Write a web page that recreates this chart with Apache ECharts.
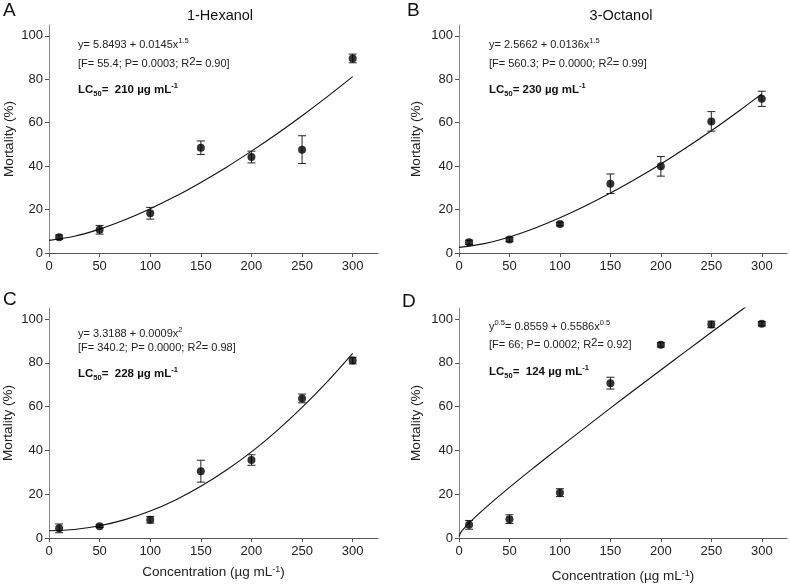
<!DOCTYPE html>
<html>
<head>
<meta charset="utf-8">
<script src="https://cdn.jsdelivr.net/npm/echarts@6/dist/echarts.min.js"></script>
<style>html,body{margin:0;padding:0;background:#fff}#c{width:790px;height:587px}</style>
</head>
<body>
<div id="c"></div>
<script>
// ---- data ----
const conc = [10, 50, 100, 150, 200, 250, 300];
const mortA = [7.3, 10.7, 18.3, 48.5, 44.2, 47.6, 89.6];
const errA  = [1.0, 2.0, 2.7, 3.1, 2.7, 6.4, 2.0];
const mortB = [4.9, 6.2, 13.3, 31.9, 39.9, 60.6, 71.0];
const errB  = [1.0, 1.0, 0.8, 4.5, 4.5, 4.5, 3.5];
const mortC = [4.4, 5.4, 8.3, 30.5, 35.6, 63.7, 81.0];
const errC  = [2.0, 0.6, 1.5, 5.0, 2.4, 2.0, 1.5];
const mortD = [6.0, 8.6, 20.7, 70.7, 88.2, 97.5, 97.8];
const errD  = [2.0, 2.0, 1.8, 2.7, 1.0, 1.5, 1.0];

const curveX  = [0, 25, 50, 75, 100, 125, 150, 175, 200, 225, 250, 275, 300];
const curveA  = [5.8, 7.7, 11.0, 15.3, 20.4, 26.1, 32.5, 39.4, 46.9, 54.8, 63.2, 72.0, 81.2];
const curveB  = [2.6, 4.3, 7.4, 11.4, 16.2, 21.6, 27.6, 34.1, 41.0, 48.5, 56.3, 64.6, 73.2];
const curveC  = [3.3, 3.9, 5.6, 8.4, 12.3, 17.4, 23.6, 30.9, 39.3, 48.9, 59.6, 71.4, 84.3];
const curveXD = [0, 2, 5, 10, 25, 50, 75, 100, 125, 150, 175, 200, 225, 250, 275, 285];
const curveD  = [0.7, 2.7, 4.4, 6.9, 13.3, 23.1, 32.4, 41.5, 50.4, 59.3, 68.0, 76.7, 85.3, 93.9, 102.4, 105.8];

const xTicks = [0, 50, 100, 150, 200, 250, 300];
const yTicks = [0, 20, 40, 60, 80, 100];

const titles  = ['1-Hexanol', '3-Octanol'];
const letters = ['A', 'B', 'C', 'D'];
const eqLine1 = ['y= 5.8493 + 0.0145x{sup|1.5}', 'y= 2.5662 + 0.0136x{sup|1.5}',
                 'y= 3.3188 + 0.0009x{sup|2}', 'y{sup|0.5}= 0.8559 + 0.5586x{sup|0.5}'];
const eqLine2 = ['[F= 55.4; P= 0.0003; R{sup2|2}= 0.90]', '[F= 560.3; P= 0.0000; R{sup2|2}= 0.99]',
                 '[F= 340.2; P= 0.0000; R{sup2|2}= 0.98]', '[F= 66; P= 0.0002; R{sup2|2}= 0.92]'];
const lc50 = ['210', '230', '228', '124'];
const lcGap = ['  ', ' ', '  ', '  '];

// ---- layout ----
const grids = [
  {left: 49, top: 25, width: 329, height: 228},
  {left: 459, top: 25, width: 328, height: 228},
  {left: 49, top: 308, width: 329, height: 230},
  {left: 459, top: 308, width: 328, height: 230}
];
const yNameGap = [33, 36, 34, 36];
const xNameGap = [0, 0, 27, 31];
const FONT = 'Liberation Sans, Arial, sans-serif';
const axisCol = '#555';

const mort = [mortA, mortB, mortC, mortD];
const errs = [errA, errB, errC, errD];
const curves = [[curveX, curveA], [curveX, curveB], [curveX, curveC], [curveXD, curveD]];

const xAxes = [], yAxes = [], series = [];
for (let i = 0; i < 4; i++) {
  const bottom = i >= 2;
  xAxes.push({
    gridIndex: i, type: 'value', min: 0, max: 325,
    name: bottom ? 'Concentration (µg mL{sup|-1})' : '',
    nameLocation: 'middle', nameGap: xNameGap[i],
    nameTextStyle: {fontFamily: FONT, fontSize: 13.5, color: '#222',
      rich: {sup: {fontSize: 9, verticalAlign: 'top', lineHeight: 8, fontFamily: FONT, color: '#222'}}},
    splitLine: {show: false},
    axisLine: {lineStyle: {color: axisCol, width: 1}},
    axisTick: {show: true, length: 4, customValues: xTicks, lineStyle: {color: axisCol}},
    axisLabel: {customValues: xTicks, fontFamily: FONT, fontSize: 13, color: '#222', margin: 7}
  });
  yAxes.push({
    gridIndex: i, type: 'value', min: 0, max: 105,
    name: 'Mortality (%)', nameLocation: 'middle', nameGap: yNameGap[i],
    nameTextStyle: {fontFamily: FONT, fontSize: 13.5, color: '#222'},
    splitLine: {show: false},
    axisLine: {show: true, lineStyle: {color: '#888', width: 1}},
    axisTick: {show: true, length: 4, customValues: yTicks, lineStyle: {color: axisCol}},
    axisLabel: {customValues: yTicks, fontFamily: FONT, fontSize: 13, color: '#222', margin: 6}
  });
  const cx = curves[i][0], cy = curves[i][1];
  series.push({
    type: 'line', xAxisIndex: i, yAxisIndex: i,
    data: cx.map((x, k) => [x, cy[k]]),
    smooth: 0.3, showSymbol: false, clip: true,
    lineStyle: {color: '#111', width: 1.1}, silent: true, z: 2
  });
  series.push({
    type: 'custom', xAxisIndex: i, yAxisIndex: i,
    data: conc.map((x, k) => [x, mort[i][k], errs[i][k]]),
    renderItem: function (params, api) {
      const x = api.value(0), y = api.value(1), e = api.value(2);
      const t = api.coord([x, y + e]), b = api.coord([x, y - e]);
      const w = 4;
      const st = {stroke: '#222', lineWidth: 1};
      return {type: 'group', children: [
        {type: 'line', shape: {x1: t[0], y1: t[1], x2: b[0], y2: b[1]}, style: st},
        {type: 'line', shape: {x1: t[0] - w, y1: t[1], x2: t[0] + w, y2: t[1]}, style: st},
        {type: 'line', shape: {x1: b[0] - w, y1: b[1], x2: b[0] + w, y2: b[1]}, style: st}
      ]};
    }, z: 3
  });
  series.push({
    type: 'scatter', xAxisIndex: i, yAxisIndex: i,
    data: conc.map((x, k) => [x, mort[i][k]]),
    symbol: 'circle', symbolSize: 8, itemStyle: {color: '#000'}, z: 4
  });
}

// ---- annotations ----
const graphic = [];
const richStyles = {
  sup: {fontSize: 7.5, verticalAlign: 'top', lineHeight: 8, fontFamily: FONT, fill: '#222'},
  sup2: {fontSize: 11.5, verticalAlign: 'top', lineHeight: 10, fontFamily: FONT, fill: '#222'},
  b: {fontWeight: 'bold', fontSize: 11.5, lineHeight: 16, fontFamily: FONT, fill: '#111'},
  bsub: {fontWeight: 'bold', fontSize: 7.5, verticalAlign: 'bottom', lineHeight: 8, fontFamily: FONT, fill: '#111'},
  bsup: {fontWeight: 'bold', fontSize: 7.5, verticalAlign: 'top', lineHeight: 8, fontFamily: FONT, fill: '#111'}
};
const eqPos = [
  {x: 78, y: [37, 56, 82]},
  {x: 489, y: [37, 56, 82]},
  {x: 78, y: [326, 340, 366]},
  {x: 489, y: [319, 337, 364]}
];
for (let i = 0; i < 4; i++) {
  const p = eqPos[i];
  const base = {fontFamily: FONT, fontSize: 11, fill: '#222', lineHeight: 16, rich: richStyles};
  graphic.push({type: 'text', left: p.x, top: p.y[0], style: Object.assign({text: eqLine1[i]}, base)});
  graphic.push({type: 'text', left: p.x, top: p.y[1], style: Object.assign({text: eqLine2[i]}, base)});
  graphic.push({type: 'text', left: p.x, top: p.y[2], style: Object.assign({
    text: '{b|LC}{bsub|50}{b|=' + lcGap[i] + lc50[i] + ' µg mL}{bsup|-1}'}, base)});
}
const letterPos = [[3, 1], [407, 1], [3, 290], [402, 292]];
letters.forEach((L, i) => graphic.push({type: 'text', left: letterPos[i][0], top: letterPos[i][1],
  style: {text: L, fontFamily: FONT, fontSize: 19, fill: '#111'}}));

const option = {
  animation: false,
  backgroundColor: '#fff',
  title: [
    {text: titles[0], left: 215, top: 3, textAlign: 'center',
     textStyle: {fontFamily: FONT, fontSize: 14.5, fontWeight: 'normal', color: '#111'}},
    {text: titles[1], left: 616, top: 3, textAlign: 'center',
     textStyle: {fontFamily: FONT, fontSize: 14.5, fontWeight: 'normal', color: '#111'}}
  ],
  grid: grids,
  xAxis: xAxes,
  yAxis: yAxes,
  series: series,
  graphic: graphic
};
const chart = echarts.init(document.getElementById('c'), null, {renderer: 'canvas'});
chart.setOption(option);
</script>
</body>
</html>
